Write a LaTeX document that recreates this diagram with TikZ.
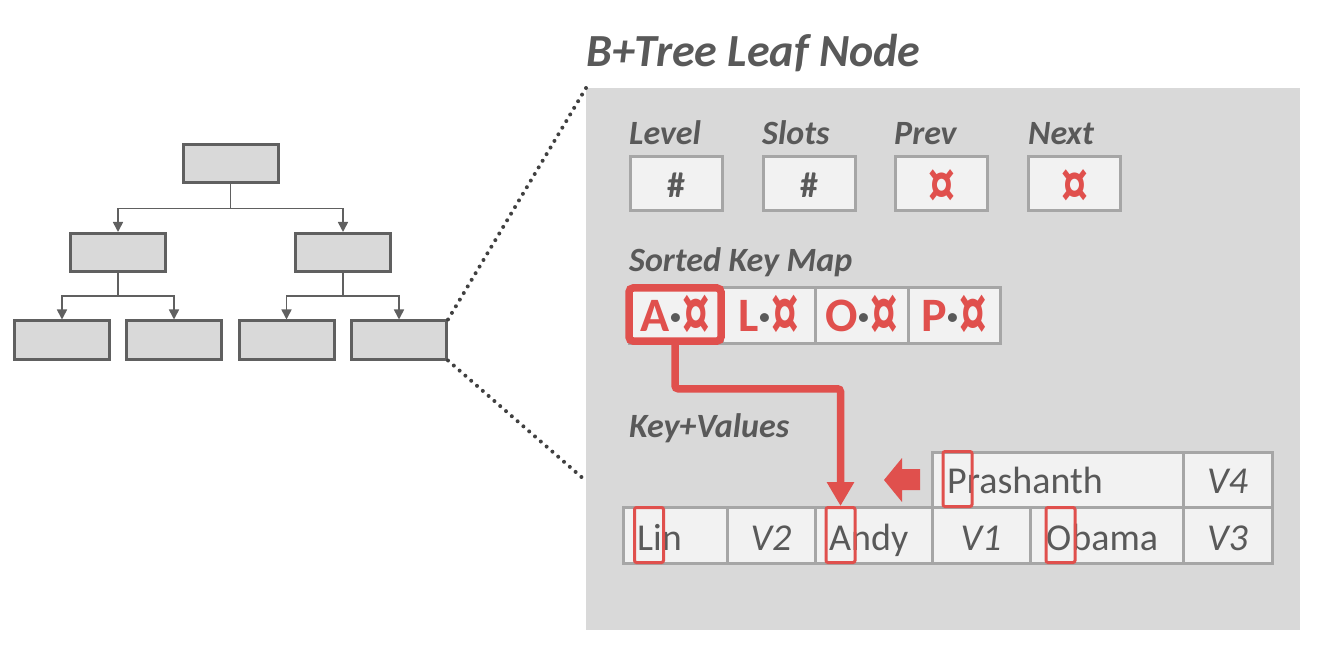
\documentclass[tikz,border=0pt]{standalone}
\usepackage{fontspec}
\setmainfont{Carlito}
\usetikzlibrary{arrows.meta}
\definecolor{txt}{HTML}{595959}
\definecolor{redc}{HTML}{E0504D}
\definecolor{cellfill}{HTML}{F2F2F2}
\definecolor{cellline}{HTML}{A6A6A6}
\definecolor{panelc}{HTML}{D9D9D9}
\definecolor{treeline}{HTML}{606060}
\definecolor{dotc}{HTML}{404040}
% enlarged currency sign, bottom on the baseline
\newcommand{\keycurr}{\raisebox{-9.4pt}{\scalebox{1.15}[1.75]{¤}}}
\newcommand{\ptrcurr}{\raisebox{-7.9pt}{\scalebox{1.5}[1.95]{¤}}}
\tikzset{
  treebox/.style={draw=treeline, fill=panelc, line width=3pt, minimum width=95pt, minimum height=38pt, inner sep=0pt},
  conn/.style={draw=treeline, line width=1.6pt, -{Triangle[width=10pt,length=10pt]}},
  dotline/.style={draw=dotc, line width=4pt, line cap=round, dash pattern=on 0pt off 7.7pt},
  cell/.style={draw=cellline, fill=cellfill, line width=3pt, inner sep=0pt, minimum height=55pt},
  lbl/.style={text=txt, font=\fontsize{34}{34}\selectfont\bfseries\itshape, inner sep=0pt, anchor=base west},
  ttl/.style={text=txt, font=\fontsize{46}{46}\selectfont\bfseries\itshape, inner sep=0pt, anchor=base west},
  val/.style={text=txt, font=\fontsize{38}{38}\selectfont, inner sep=0pt},
  keytxt/.style={font=\fontsize{48}{48}\selectfont\bfseries, inner sep=0pt, anchor=base},
  ptrtxt/.style={font=\fontsize{36}{36}\selectfont\bfseries, inner sep=0pt, anchor=base},
  hl/.style={draw=redc, line width=3pt, rounded corners=2pt, inner sep=0pt, minimum width=29pt, minimum height=55pt},
  redline/.style={draw=redc, line width=7.5pt, rounded corners=3pt, -{Triangle[width=26pt,length=24pt]}},
}
\begin{document}
\begin{tikzpicture}[x=1pt,y=-1pt]
\useasboundingbox (0,0) rectangle (1336,660);
% panel
\node[fill=panelc, inner sep=0pt, minimum width=714pt, minimum height=542pt, anchor=north west] (panel) at (586,88) {};
% tree
\node[treebox] (top) at (230.5,164) {};
\node[treebox] (ml) at (118,252.5) {};
\node[treebox] (mr) at (343,252.5) {};
\node[treebox] (l1) at (62,340) {};
\node[treebox] (l2) at (174,340) {};
\node[treebox] (l3) at (286.5,340) {};
\node[treebox] (l4) at (399,340) {};
\draw[conn] (top.south) -- ++(0,24) -| (ml.north);
\draw[conn] (top.south) -- ++(0,24) -| (mr.north);
\draw[conn] (ml.south) -- ++(0,23) -| (l1.north);
\draw[conn] (ml.south) -- ++(0,23) -| (l2.north);
\draw[conn] (mr.south) -- ++(0,23) -| (l3.north);
\draw[conn] (mr.south) -- ++(0,23) -| (l4.north);
% dotted zoom lines
\coordinate (lowend) at (586,481);
\draw[dotline] (l4.north east) -- (panel.north west);
\draw[dotline] (l4.south east) -- (lowend);
% title
\node[ttl] (title) at (586,67) {B+Tree Leaf Node};
% header fields
\node[lbl] (lLevel) at (629,145) {Level};
\node[lbl] (lSlots) at (762,145) {Slots};
\node[lbl] (lPrev) at (894,145) {Prev};
\node[lbl] (lNext) at (1028,145) {Next};
\node[cell, minimum width=92pt, minimum height=54pt] (bLevel) at (676,184) {};
\node[cell, minimum width=92pt, minimum height=54pt] (bSlots) at (809,184) {};
\node[cell, minimum width=92pt, minimum height=54pt] (bPrev) at (941.5,184) {};
\node[cell, minimum width=92pt, minimum height=54pt] (bNext) at (1074.5,184) {};
\node[ptrtxt, text=txt] (vLevel) at (676,198) {\#};
\node[ptrtxt, text=txt] (vSlots) at (809,198) {\#};
\node[ptrtxt, text=redc] (vPrev) at (941.5,200) {\ptrcurr};
\node[ptrtxt, text=redc] (vNext) at (1074.5,200) {\ptrcurr};
% sorted key map
\node[lbl] (lSorted) at (629,272) {Sorted Key Map};
\node[cell, minimum width=93pt] (k1) at (675.5,315.5) {};
\node[cell, minimum width=93pt] (k2) at (768.5,315.5) {};
\node[cell, minimum width=93pt] (k3) at (861.5,315.5) {};
\node[cell, minimum width=92pt] (k4) at (954,315.5) {};
\node[keytxt] (tk1) at (675.5,331) {\color{redc}A\color{txt}·\color{redc}\keycurr};
\node[keytxt] (tk2) at (768.5,331) {\color{redc}L\color{txt}·\color{redc}\keycurr};
\node[keytxt] (tk3) at (861.5,331) {\color{redc}O\color{txt}·\color{redc}\keycurr};
\node[keytxt] (tk4) at (954,331) {\color{redc}P\color{txt}·\color{redc}\keycurr};
\node[draw=redc, line width=7.5pt, rounded corners=4pt, inner sep=0pt, minimum width=92pt, minimum height=53pt] (sel) at (675,314.5) {};
% key+values
\node[lbl] (lKV) at (629,437) {Key+Values};
\node[cell, minimum width=251pt] (cPrash) at (1057.5,479.5) {};
\node[cell, minimum width=89pt] (cV4) at (1227.5,479.5) {};
\node[cell, minimum width=104pt, minimum height=56pt] (cLin) at (675,535) {};
\node[cell, minimum width=88pt, minimum height=56pt] (cV2) at (771,535) {};
\node[cell, minimum width=117pt, minimum height=56pt] (cAndy) at (873.5,535) {};
\node[cell, minimum width=98pt, minimum height=56pt] (cV1) at (981,535) {};
\node[cell, minimum width=153pt, minimum height=56pt] (cObama) at (1106.5,535) {};
\node[cell, minimum width=89pt, minimum height=56pt] (cV3) at (1227.5,535) {};
\node[val, anchor=base west] (tPrash) at (947,493) {Prashanth};
\node[val, anchor=base, font=\fontsize{38}{38}\selectfont\itshape] (tV4) at (1227.5,493) {V4};
\node[val, anchor=base west] (tLin) at (637,550) {Lin};
\node[val, anchor=base, font=\fontsize{38}{38}\selectfont\itshape] (tV2) at (771,550) {V2};
\node[val, anchor=base west] (tAndy) at (829,550) {Andy};
\node[val, anchor=base, font=\fontsize{38}{38}\selectfont\itshape] (tV1) at (981,550) {V1};
\node[val, anchor=base west] (tObama) at (1046,550) {Obama};
\node[val, anchor=base, font=\fontsize{38}{38}\selectfont\itshape] (tV3) at (1227.5,550) {V3};
% highlights
\node[hl] (hP) at (957.5,479) {};
\node[hl] (hLin) at (649,535) {};
\node[hl] (hA) at (840.5,535) {};
\node[hl] (hO) at (1060.5,535) {};
% pointer arrow
\draw[redline] (sel.south) -- ++(0,44) -| (hA.north);
% insertion block arrow
\fill[redc] (884,480) -- (902,458) -- (902,469) -- (920,469) -- (920,490) -- (902,490) -- (902,502) -- cycle;
\end{tikzpicture}
\end{document}
